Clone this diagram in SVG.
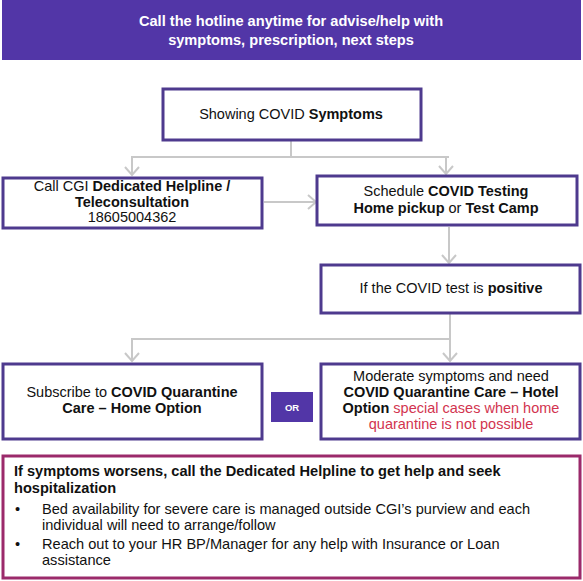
<svg xmlns="http://www.w3.org/2000/svg" width="583" height="581" viewBox="0 0 583 581">
<style>
.box{fill:#fff;stroke:#4e3a8e;stroke-width:3}
.t{font-family:"Liberation Sans",Arial,sans-serif;font-size:14.5px;fill:#111;text-anchor:middle}
.b{font-weight:bold}
.red{fill:#d2344f}
.con{fill:none;stroke:#c8c8c8;stroke-width:2}
.lt{font-family:"Liberation Sans",Arial,sans-serif;font-size:14.6px;fill:#111}
</style>
<defs>
<marker id="ah" markerUnits="userSpaceOnUse" markerWidth="16" markerHeight="16" refX="10" refY="8" orient="auto" viewBox="0 0 16 16">
<path d="M2,1 L10,8 L2,15" fill="none" stroke="#c8c8c8" stroke-width="2"/>
</marker>
</defs>
<rect width="583" height="581" fill="#fff"/>
<g id="header">
<rect x="2" y="0" width="579" height="60" fill="#5236a7"/>
<text class="t b" x="291" y="26" style="fill:#fff;font-size:14.6px">Call the hotline anytime for advise/help with</text>
<text class="t b" x="291" y="45" style="fill:#fff;font-size:14.6px">symptoms, prescription, next steps</text>
</g>
<g id="connectors">
<path class="con" d="M291,141 V157 H449"/>
<path class="con" d="M291,157 H132 V175" marker-end="url(#ah)"/>
<path class="con" d="M446,157 V174" marker-end="url(#ah)"/>
<path class="con" d="M264,202 H316" marker-end="url(#ah)"/>
<path class="con" d="M449,227 V263" marker-end="url(#ah)"/>
<path class="con" d="M450,314 V339 H132 V361" marker-end="url(#ah)"/>
<path class="con" d="M450,339 V361" marker-end="url(#ah)"/>
</g>
<g id="symptoms">
<rect class="box" x="163" y="89" width="258" height="51"/>
<text class="t" x="291" y="119">Showing COVID <tspan class="b">Symptoms</tspan></text>
</g>
<g id="helpline">
<rect class="box" x="3" y="178" width="259" height="50"/>
<text class="t" x="132" y="191">Call CGI <tspan class="b">Dedicated Helpline /</tspan></text>
<text class="t b" x="132" y="207">Teleconsultation</text>
<text class="t" x="132" y="222">18605004362</text>
</g>
<g id="testing">
<rect class="box" x="317" y="176" width="260" height="49"/>
<text class="t" x="446" y="196">Schedule <tspan class="b">COVID Testing</tspan></text>
<text class="t" x="446" y="213"><tspan class="b">Home pickup</tspan> or <tspan class="b">Test Camp</tspan></text>
</g>
<g id="positive">
<rect class="box" x="321" y="265" width="259" height="48"/>
<text class="t" x="451" y="293">If the COVID test is <tspan class="b">positive</tspan></text>
</g>
<g id="home">
<rect class="box" x="3" y="364" width="259" height="75"/>
<text class="t" x="132" y="397">Subscribe to <tspan class="b">COVID Quarantine</tspan></text>
<text class="t b" x="132" y="413">Care – Home Option</text>
</g>
<g id="or">
<rect x="271" y="392" width="42" height="30" fill="#5236a7"/>
<text x="292" y="411" text-anchor="middle" font-family="Liberation Sans,Arial,sans-serif" font-size="9.5" font-weight="bold" fill="#fff">OR</text>
</g>
<g id="hotel">
<rect class="box" x="321" y="364" width="259" height="75"/>
<text class="t" x="451" y="381">Moderate symptoms and need</text>
<text class="t b" x="451" y="397">COVID Quarantine Care – Hotel</text>
<text class="t" x="451" y="413"><tspan class="b">Option</tspan> <tspan class="red">special cases when home</tspan></text>
<text class="t red" x="451" y="429">quarantine is not possible</text>
</g>
<g id="worsen">
<rect x="3" y="456" width="577" height="122" fill="#fff" stroke="#9b2a6b" stroke-width="3"/>
<text class="lt b" x="14" y="476">If symptoms worsens, call the Dedicated Helpline to get help and seek</text>
<text class="lt b" x="14" y="493">hospitalization</text>
<text class="lt" x="15" y="514">•</text>
<text class="lt" x="42" y="514">Bed availability for severe care is managed outside CGI’s purview and each</text>
<text class="lt" x="42" y="530">individual will need to arrange/follow</text>
<text class="lt" x="15" y="549">•</text>
<text class="lt" x="42" y="549">Reach out to your HR BP/Manager for any help with Insurance or Loan</text>
<text class="lt" x="42" y="565">assistance</text>
</g>
</svg>
